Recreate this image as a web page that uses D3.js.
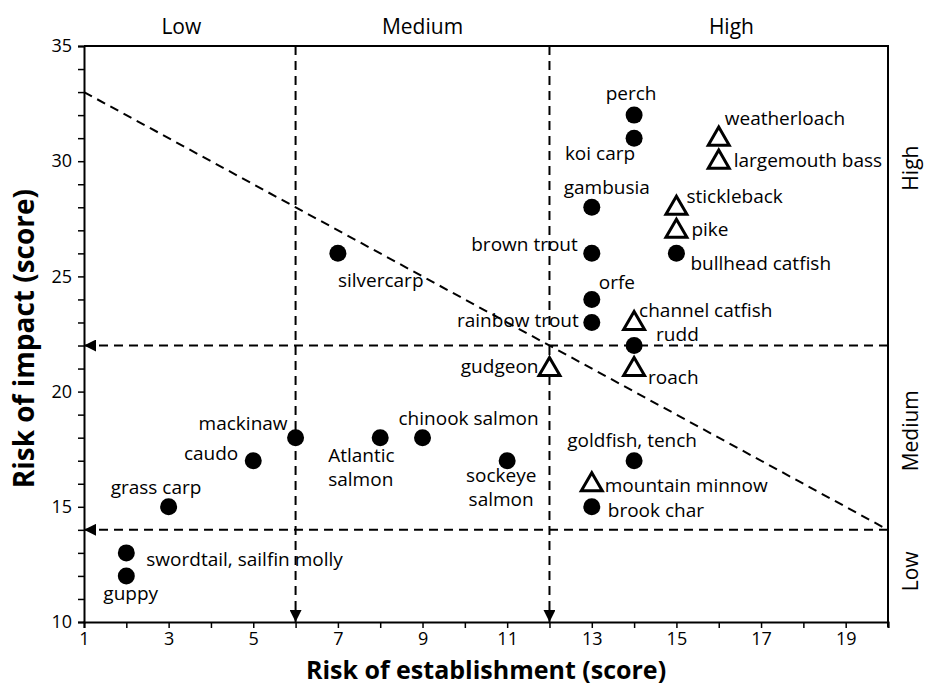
<!DOCTYPE html>
<html>
<head>
<meta charset="utf-8">
<script src="https://cdn.jsdelivr.net/npm/d3@7"></script>
<style>
  body { margin: 0; background: #fff; }
  text { font-family: "Open Sans", "Noto Sans", sans-serif; fill: #000; }
</style>
</head>
<body>
<div id="chart"></div>
<script>
var width  = 925;
var height = 687;
var margin = {top: 46, right: 37, bottom: 65, left: 84};

// fish with established populations (filled circles)
var circleNames = ["perch", "koi carp", "gambusia", "brown trout", "orfe", "rainbow trout", "rudd",
  "bullhead catfish", "silvercarp", "mackinaw", "caudo", "Atlantic\nsalmon", "chinook salmon",
  "sockeye\nsalmon", "goldfish, tench", "brook char", "grass carp", "swordtail, sailfin molly", "guppy"];
var circleX = [14, 14, 13, 13, 13, 13, 14, 15, 7, 6, 5, 8, 9, 11, 14, 13, 3, 2, 2];
var circleY = [32, 31, 28, 26, 24, 23, 22, 26, 26, 18, 17, 18, 18, 17, 17, 15, 15, 13, 12];

// triangles
var triNames = ["weatherloach", "largemouth bass", "stickleback", "pike", "channel catfish",
  "gudgeon", "roach", "mountain minnow"];
var triX = [16, 16, 15, 15, 14, 12, 14, 13];
var triY = [31, 30, 28, 27, 23, 21, 21, 16];

// label offsets (px) and anchors, same order as names
var circleLab = [
  [-3, -22, "middle"], [1, 15, "end"], [15, -20, "middle"], [-14, -9, "end"], [7, -17, "start"],
  [-13, -2, "end"], [22, -11, "start"], [14, 10, "start"], [0, 27, "start"], [-8, -14, "end"],
  [-15, -7, "end"], [-52, 18, "start"], [-24, -19, "start"], [-6, 15, "middle"], [-2, -20, "middle"],
  [16, 4, "start"], [-58, -19, "start"], [20, 6, "start"], [-23, 17, "start"]];
var triLab = [
  [6, -20, "start"], [15, -1, "start"], [10, -11, "start"], [15, -1, "start"], [5, -12, "start"],
  [-11, -2, "end"], [14, 9, "start"], [13, 2, "start"]];

var xTicks = [1, 3, 5, 7, 9, 11, 13, 15, 17, 19];
var yTicks = [10, 15, 20, 25, 30, 35];
var topCats = ["Low", "Medium", "High"];
var topCatX = [3.3, 9, 16.3];
var sideCats = ["High", "Medium", "Low"];
var sideCatY = [29.7, 18.3, 12.2];
var estCuts = [6, 12];
var impCuts = [22, 14];

var svg = d3.select("#chart").append("svg")
  .attr("width", width)
  .attr("height", height);

var x = d3.scaleLinear().domain([1, 20]).range([margin.left, width - margin.right]);
var y = d3.scaleLinear().domain([10, 35]).range([height - margin.bottom, margin.top]);

// axes with minor ticks
svg.append("g")
  .attr("transform", "translate(0," + y(10) + ")")
  .call(d3.axisBottom(x).tickValues(d3.range(1, 21)).tickSize(6)
    .tickFormat(function(d) { return xTicks.indexOf(d) >= 0 ? d : ""; }))
  .call(function(g) {
    g.select(".domain").attr("stroke-width", 2);
    g.selectAll(".tick line").attr("stroke-width", 1.5);
    g.selectAll(".tick text").attr("font-size", 18).attr("dy", "0.8em");
  });

svg.append("g")
  .attr("transform", "translate(" + x(1) + ",0)")
  .call(d3.axisLeft(y).tickValues(d3.range(10, 36)).tickSize(6)
    .tickFormat(function(d) { return yTicks.indexOf(d) >= 0 ? d : ""; }))
  .call(function(g) {
    g.select(".domain").attr("stroke-width", 2);
    g.selectAll(".tick line").attr("stroke-width", 1.5);
    g.selectAll(".tick text").attr("font-size", 18).attr("x", -12);
  });

// top and right border
svg.append("path")
  .attr("d", "M" + x(1) + "," + y(35) + "H" + x(20) + "V" + (y(10) + 5))
  .attr("fill", "none").attr("stroke", "#000").attr("stroke-width", 2);

// arrowheads
var defs = svg.append("defs");
defs.append("marker")
  .attr("id", "arr")
  .attr("viewBox", "0 0 10 10")
  .attr("refX", 10).attr("refY", 5)
  .attr("markerWidth", 12).attr("markerHeight", 12)
  .attr("markerUnits", "userSpaceOnUse")
  .attr("orient", "auto")
  .append("path").attr("d", "M0,0L10,5L0,10Z").attr("fill", "#000");

var dash = "9,6";

svg.selectAll(".vcut")
  .data(estCuts)
  .enter().append("line")
  .attr("class", "vcut")
  .attr("x1", function(d) { return x(d); }).attr("x2", function(d) { return x(d); })
  .attr("y1", y(35)).attr("y2", y(10))
  .attr("stroke", "#000").attr("stroke-width", 2)
  .attr("stroke-dasharray", dash)
  .attr("marker-end", "url(#arr)");

svg.selectAll(".hcut")
  .data(impCuts)
  .enter().append("line")
  .attr("class", "hcut")
  .attr("x1", x(20)).attr("x2", x(1))
  .attr("y1", function(d) { return y(d); }).attr("y2", function(d) { return y(d); })
  .attr("stroke", "#000").attr("stroke-width", 2)
  .attr("stroke-dasharray", dash)
  .attr("marker-end", "url(#arr)");

// diagonal: establishment + impact = 34
svg.append("line")
  .attr("x1", x(1)).attr("y1", y(33))
  .attr("x2", x(20)).attr("y2", y(14))
  .attr("stroke", "#000").attr("stroke-width", 2)
  .attr("stroke-dasharray", dash);

// points
var circles = circleNames.map(function(n, i) {
  return {name: n, x: circleX[i], y: circleY[i], lab: circleLab[i]};
});
var tris = triNames.map(function(n, i) {
  return {name: n, x: triX[i], y: triY[i], lab: triLab[i]};
});

svg.selectAll(".dot")
  .data(circles)
  .enter().append("circle")
  .attr("class", "dot")
  .attr("cx", function(d) { return x(d.x); })
  .attr("cy", function(d) { return y(d.y); })
  .attr("r", 8.5)
  .attr("fill", "#000");

var tri = d3.symbol().type(d3.symbolTriangle).size(190);
svg.selectAll(".tri")
  .data(tris)
  .enter().append("path")
  .attr("class", "tri")
  .attr("d", tri)
  .attr("transform", function(d) { return "translate(" + x(d.x) + "," + (y(d.y) + 1) + ")"; })
  .attr("fill", "#fff")
  .attr("stroke", "#000")
  .attr("stroke-width", 3)
  .attr("stroke-linejoin", "miter");

// each line of a label is its own text element
function addLabels(data) {
  data.forEach(function(d) {
    d.name.split("\n").forEach(function(line, k) {
      svg.append("text")
        .attr("font-size", 19)
        .attr("text-anchor", d.lab[2])
        .attr("x", x(d.x) + d.lab[0])
        .attr("y", y(d.y) + d.lab[1] + k * 24)
        .attr("dy", "0.35em")
        .text(line);
    });
  });
}
addLabels(circles);
addLabels(tris);

// category labels
svg.selectAll(".topcat")
  .data(topCats)
  .enter().append("text")
  .attr("class", "topcat")
  .attr("x", function(d, i) { return x(topCatX[i]); })
  .attr("y", 34)
  .attr("text-anchor", "middle")
  .attr("font-size", 21)
  .text(function(d) { return d; });

svg.selectAll(".sidecat")
  .data(sideCats)
  .enter().append("text")
  .attr("class", "sidecat")
  .attr("transform", function(d, i) { return "translate(918," + y(sideCatY[i]) + ") rotate(-90)"; })
  .attr("text-anchor", "middle")
  .attr("font-size", 21)
  .text(function(d) { return d; });

// axis titles
svg.append("text")
  .attr("x", (x(1) + x(20)) / 2)
  .attr("y", 679)
  .attr("text-anchor", "middle")
  .attr("font-size", 25)
  .attr("font-weight", "bold")
  .text("Risk of establishment (score)");

svg.append("text")
  .attr("transform", "translate(34," + y(22.3) + ") rotate(-90)")
  .attr("text-anchor", "middle")
  .attr("font-size", 28)
  .attr("font-weight", "bold")
  .text("Risk of impact (score)");
</script>
</body>
</html>
